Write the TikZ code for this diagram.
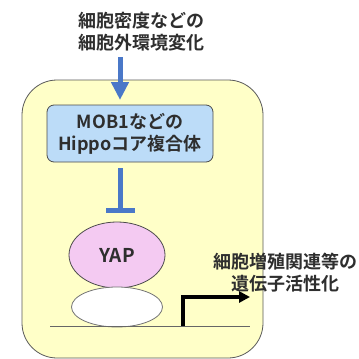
\documentclass[tikz,border=0pt]{standalone}
\usepackage{fontspec}
\setmainfont{Noto Sans CJK JP}[BoldFont={* Bold}]
\usetikzlibrary{arrows.meta,shapes.geometric}
\definecolor{cellfill}{HTML}{FFFFC8}
\definecolor{mobfill}{HTML}{BCDCF8}
\definecolor{yapfill}{HTML}{F4CAF2}
\definecolor{sigblue}{HTML}{4A78C8}
\definecolor{txt}{HTML}{2E2E2E}
\tikzset{
  lbl/.style={font=\fontsize{18}{22}\selectfont\bfseries, text=txt, align=center, inner sep=0pt},
  cellbox/.style={draw=black!65, fill=cellfill, line width=0.8pt, rounded corners=35pt},
  mobbox/.style={draw=black!70, fill=mobfill, line width=0.8pt, rounded corners=7pt, minimum width=166pt, minimum height=57pt, inner sep=0pt},
  blob/.style={ellipse, draw=black!70, line width=0.8pt, inner sep=0pt},
  sig/.style={draw=sigblue, line width=5pt},
}
\begin{document}
\begin{tikzpicture}[x=1pt,y=-1pt]
\useasboundingbox (0,0) rectangle (359,359);
\fill[white] (0,0) rectangle (359,359);
% cell
\draw[cellbox] (22,80) rectangle (263,358);
% top label
\node[lbl] (env) at (141,32) {細胞密度などの\\細胞外環境変化};
\coordinate (a1) at (120,57);
\coordinate (a2) at (120,100);
\draw[sig, -{Triangle[length=18pt,width=17pt]}] (a1) -- (a2);
% MOB1 box
\node[mobbox, lbl] (mob) at (130,133.5) {MOB1などの\\Hippoコア複合体};
% inhibition
\coordinate (i1) at (120,168);
\coordinate (i2) at (120,212.5);
\draw[sig, -{Bar[width=29pt,line width=5pt]}] (i1) -- (i2);
% YAP
\node[blob, fill=yapfill, minimum width=96pt, minimum height=66pt, lbl, font=\fontsize{19}{22}\selectfont\bfseries] (yap) at (117,255) {YAP};
% white partner
\node[blob, draw=black!55, fill=white, minimum width=91pt, minimum height=40pt] (tf) at (117,307) {};
% DNA line
\coordinate (d1) at (50,326);
\coordinate (d2) at (250,326);
\draw[black!60, line width=0.6pt] (d1) -- (d2);
% transcription arrow
\coordinate (p0) at (183,326);
\coordinate (p1) at (250,297);
\draw[black, line width=3.5pt, -{Triangle[length=11pt,width=11pt]}] (p0) |- (p1);
% right label
\node[lbl] (gene) at (285,273) {細胞増殖関連等の\\遺伝子活性化};
\end{tikzpicture}
\end{document}
